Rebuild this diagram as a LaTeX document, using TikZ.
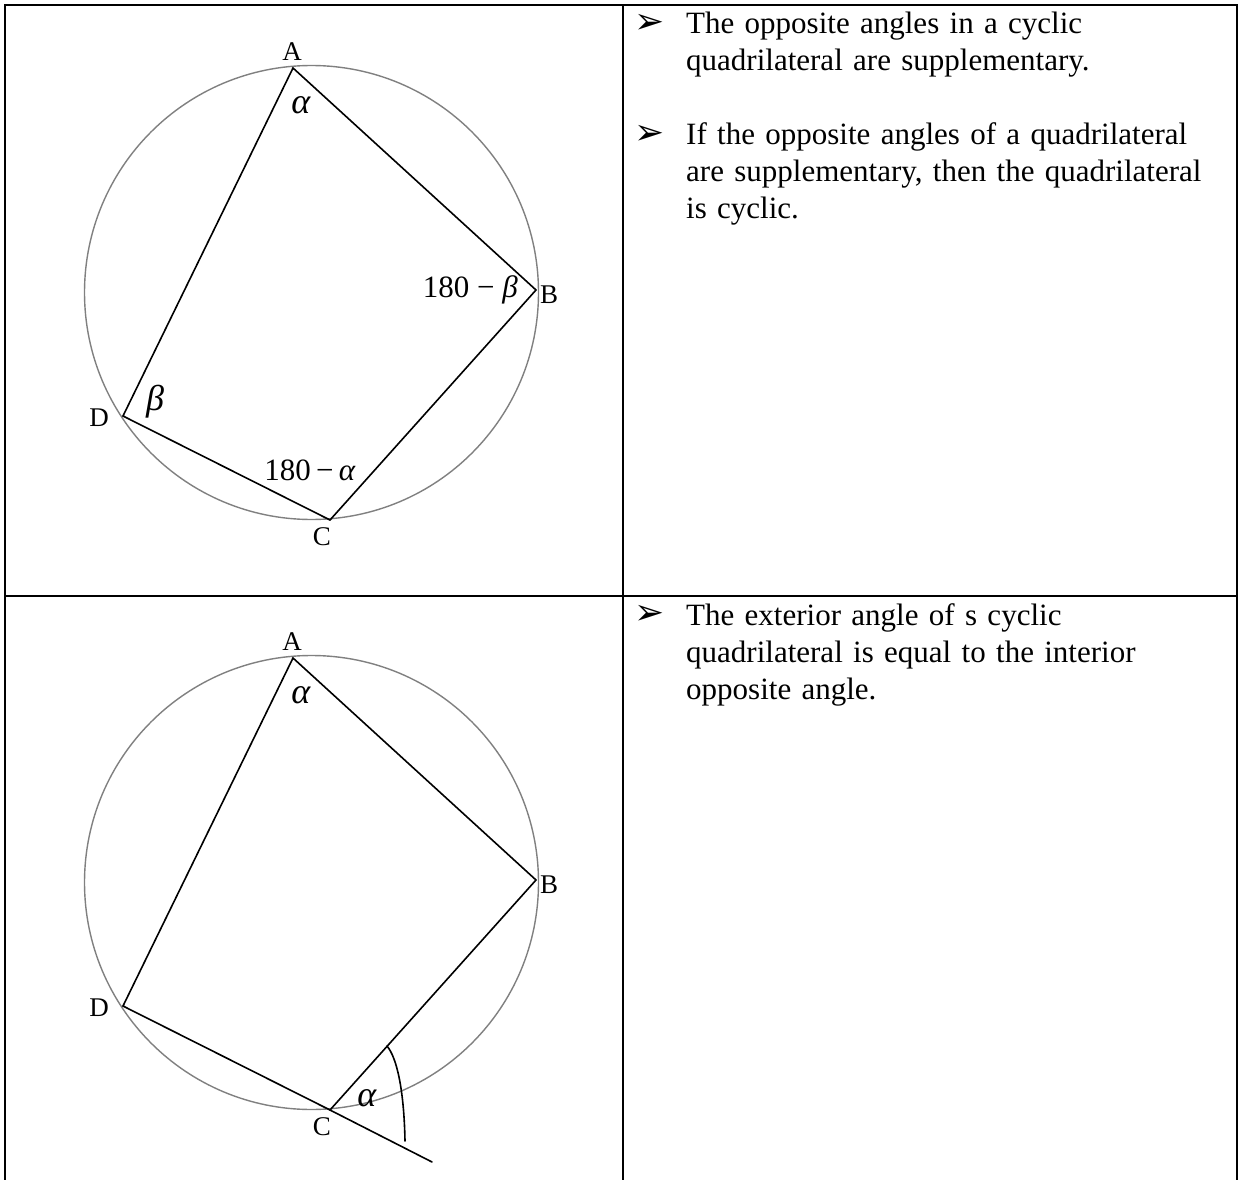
\documentclass[tikz,border=0pt]{standalone}
\usepackage{fontspec}
\setmainfont{Liberation Serif}
\newfontfamily\symfont{DejaVu Sans}
\begin{document}
\begin{tikzpicture}[x=1pt,y=-1pt,
  frame/.style={line width=2pt},
  side/.style={line width=1.6pt, line cap=round},
  rim/.style={draw=black!50, line width=1.4pt},
  vlabel/.style={font=\fontsize{27}{29}\selectfont, inner sep=0pt},
  alabel/.style={font=\fontsize{31}{33}\selectfont, inner sep=0pt},
  glabel/.style={font=\fontsize{36}{38}\selectfont, inner sep=0pt},
  bul/.style={font=\symfont\fontsize{36}{38}\selectfont, inner sep=0pt},
  para/.style={font=\fontsize{31}{37}\selectfont, inner sep=0pt, anchor=base west, text width=560pt, align=left}]
\useasboundingbox (0,0) rectangle (1240,1180);
\fill[white] (0,0) rectangle (1240,1180);
% table
\coordinate (TL) at (5,5);
\coordinate (TR) at (1237,5);
\coordinate (BL) at (5,1180);
\coordinate (BR) at (1237,1180);
\coordinate (MT) at (623,5);
\coordinate (MB) at (623,1180);
\coordinate (RL) at (5,596);
\coordinate (RR) at (1237,596);
\draw[frame] (BL) -- (TL) -- (TR) -- (BR);
\draw[frame] (MT) -- (MB);
\draw[frame] (RL) -- (RR);
% first figure
\begin{scope}
\coordinate (O1) at (311.5,292.5);
\coordinate (A1) at (293,68);
\coordinate (B1) at (536,290);
\coordinate (C1) at (330,520);
\coordinate (D1) at (123,416);
\draw[rim] (O1) circle[radius=227];
\draw[side] (A1) -- (B1) -- (C1) -- (D1) -- cycle;
\node[vlabel] (lA1) at (292,52) {A};
\node[vlabel] (lB1) at (549,295) {B};
\node[vlabel] (lC1) at (322,537) {C};
\node[vlabel] (lD1) at (99,418) {D};
\node[glabel] (al1) at (301,105) {\textit{α}};
\node[glabel] (be1) at (155,402) {\textit{β}};
\node[alabel, anchor=east] (sb1) at (518,290) {180 − \textit{β}};
\node[alabel] (sa1) at (310,470) {180\,−\,\textit{α}};
\end{scope}
% second figure
\begin{scope}
\coordinate (O2) at (311.5,882.5);
\coordinate (A2) at (293,658);
\coordinate (B2) at (536,880);
\coordinate (C2) at (330,1110);
\coordinate (D2) at (123,1006);
\coordinate (E2) at (432,1162);
\coordinate (P2) at (387,1046);
\coordinate (Q2) at (405,1141);
\draw[rim] (O2) circle[radius=227];
\draw[side] (A2) -- (B2) -- (C2) -- (D2) -- cycle;
\draw[side] (C2) -- (E2);
\draw[side] (P2) .. controls (397,1058) and (404,1090) .. (Q2);
\node[vlabel] (lA2) at (292,642) {A};
\node[vlabel] (lB2) at (549,885) {B};
\node[vlabel] (lC2) at (322,1127) {C};
\node[vlabel] (lD2) at (99,1008) {D};
\node[glabel] (al2) at (301,695) {\textit{α}};
\node[glabel] (al3) at (367,1098) {\textit{α}};
\end{scope}
% text
\node[bul] (b1) at (650,24) {➢};
\node[para] (t1) at (686,34) {The opposite angles in a cyclic\\quadrilateral are supplementary.};
\node[bul] (b2) at (650,135) {➢};
\node[para] (t2) at (686,145) {If the opposite angles of a quadrilateral\\are supplementary, then the quadrilateral\\is cyclic.};
\node[bul] (b3) at (650,615) {➢};
\node[para] (t3) at (686,625) {The exterior angle of s cyclic\\quadrilateral is equal to the interior\\opposite angle.};
\end{tikzpicture}
\end{document}
